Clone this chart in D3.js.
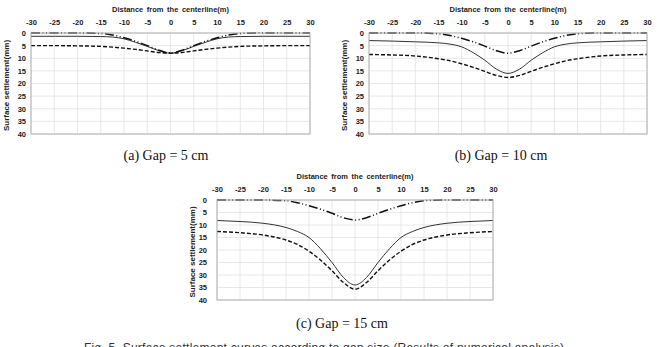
<!DOCTYPE html>
<meta charset="utf-8">
<style>
    body {
        margin: 0;
        background: #fff;
    }
    svg text {
        font-family: "Liberation Sans", Arial, sans-serif;
    }
    .tick {
        font-size: 7.5px;
        font-weight: bold;
        fill: #222;
    }
    .axis-title {
        font-size: 7.5px;
        font-weight: bold;
        fill: #222;
    }
    .caption {
        font-family: "Liberation Serif", "Times New Roman", serif !important;
        font-size: 14px;
        fill: #111;
    }
</style>

<body>
    <script src="https://cdn.jsdelivr.net/npm/d3@7"></script>
    <script>
        // distance from centerline (m)
        var distance = [-30, -25, -20, -15, -12.5, -10, -7.5, -5, -2.5, 0, 2.5, 5, 7.5, 10, 12.5, 15, 20, 25, 30];
        var xTicks = [-30, -25, -20, -15, -10, -5, 0, 5, 10, 15, 20, 25, 30];
        var yTicks = [0, 5, 10, 15, 20, 25, 30, 35, 40];

        // settlement (mm), gap = 5 cm
        var gap5Solid = [1.3, 1.3, 1.3, 1.4, 1.6, 2.3, 3.7, 5.3, 7, 8, 7, 5.3, 3.7, 2.3, 1.6, 1.4, 1.3, 1.3, 1.3];
        var gap5Dashed = [5, 5, 5.1, 5.3, 5.6, 6, 6.5, 7.1, 7.7, 8, 7.7, 7.1, 6.5, 6, 5.6, 5.3, 5.1, 5, 5];
        var gap5DashDot = [0, 0, 0, 0.2, 0.8, 1.9, 3.3, 5, 6.8, 8, 6.8, 5, 3.3, 1.9, 0.8, 0.2, 0, 0, 0];

        // gap = 10 cm
        var gap10Solid = [3, 3.2, 3.5, 3.9, 4.4, 5.5, 7.8, 10.8, 14.3, 16, 14.3, 10.8, 7.8, 5.5, 4.4, 3.9, 3.5, 3.2, 3];
        var gap10Dashed = [8.5, 8.7, 9.1, 10.2, 11, 12.2, 13.6, 15.2, 16.8, 17.6, 16.8, 15.2, 13.6, 12.2, 11, 10.2, 9.1, 8.7, 8.5];
        var gap10DashDot = [0, 0, 0, 0.3, 1, 2.1, 3.5, 5.2, 7, 8, 7, 5.2, 3.5, 2.1, 1, 0.3, 0, 0, 0];

        // gap = 15 cm
        var gap15Solid = [8.2, 8.6, 9.3, 11, 12.6, 15, 19.5, 25, 31, 34, 31, 25, 19.5, 15, 12.6, 11, 9.3, 8.6, 8.2];
        var gap15Dashed = [12.6, 13.1, 14, 16, 17.8, 20.5, 24, 28.3, 33, 35.7, 33, 28.3, 24, 20.5, 17.8, 16, 14, 13.1, 12.6];
        var gap15DashDot = [0, 0, 0, 0.3, 1.1, 2.3, 3.7, 5.3, 7.1, 8, 7.1, 5.3, 3.7, 2.3, 1.1, 0.3, 0, 0, 0];

        var captions = ["(a) Gap = 5 cm", "(b) Gap = 10 cm", "(c) Gap = 15 cm"];

        var svg = d3.select("body").append("svg")
            .attr("width", 658)
            .attr("height", 347);

        var panels = [
            { x0: 31, x1: 310, y0: 33, y1: 134, cap: [166, 160], series: [gap5Solid, gap5Dashed, gap5DashDot] },
            { x0: 369, x1: 647, y0: 33, y1: 134, cap: [501, 160], series: [gap10Solid, gap10Dashed, gap10DashDot] },
            { x0: 217, x1: 493, y0: 200, y1: 300, cap: [342, 328], series: [gap15Solid, gap15Dashed, gap15DashDot] }
        ];

        var styles = [
            { width: 1, dash: null, color: "#333" },
            { width: 1.4, dash: "4,2", color: "#111" },
            { width: 1.5, dash: "9,2.5,1,2.5,1,2.5", color: "#111" }
        ];

        panels.forEach(function (p, i) {
            var x = d3.scaleLinear().domain([-30, 30]).range([p.x0, p.x1]);
            var y = d3.scaleLinear().domain([0, 40]).range([p.y0, p.y1]);
            var g = svg.append("g");

            // grid
            g.selectAll(".gx").data(xTicks).enter().append("line")
                .attr("x1", d => x(d)).attr("x2", d => x(d))
                .attr("y1", p.y0).attr("y2", p.y1)
                .attr("stroke", "#e2e2e2").attr("stroke-width", 0.8);
            g.selectAll(".gy").data(yTicks).enter().append("line")
                .attr("x1", p.x0).attr("x2", p.x1)
                .attr("y1", d => y(d)).attr("y2", d => y(d))
                .attr("stroke", "#e2e2e2").attr("stroke-width", 0.8);

            // top axis labels (plain hyphen minus like the original)
            var xa = d3.axisTop(x).tickValues(xTicks).tickSize(0).tickPadding(8).tickFormat(d => String(d));
            var gx = g.append("g").attr("transform", "translate(0," + p.y0 + ")").call(xa);
            gx.select(".domain").remove();
            gx.selectAll("text").attr("class", "tick").attr("font-size", null).attr("font-family", null);

            var ya = d3.axisLeft(y).tickValues(yTicks).tickSize(0).tickPadding(p.x0 === 217 ? 10 : 5).tickFormat(d => String(d));
            var gy = g.append("g").attr("transform", "translate(" + p.x0 + ",0)").call(ya);
            gy.select(".domain").remove();
            gy.selectAll("text").attr("class", "tick").attr("font-size", null).attr("font-family", null);

            g.append("text").attr("class", "axis-title")
                .attr("x", (p.x0 + p.x1) / 2).attr("y", p.y0 - 21)
                .attr("text-anchor", "middle")
                .style("word-spacing", "1.5px")
                .text("Distance from the centerline(m)");

            g.append("text").attr("class", "axis-title")
                .attr("transform", "translate(" + (p.x0 - 22) + "," + ((p.y0 + p.y1) / 2 + 2) + ") rotate(-90)")
                .attr("text-anchor", "middle")
                .style("font-size", "8px")
                .text("Surface settlement(mm)");

            // curves
            var line = d3.line()
                .x((d, k) => x(distance[k]))
                .y(d => y(d))
                .curve(d3.curveMonotoneX);

            p.series.forEach(function (s, k) {
                g.append("path")
                    .attr("d", line(s))
                    .attr("fill", "none")
                    .attr("stroke", styles[k].color)
                    .attr("stroke-width", styles[k].width)
                    .attr("stroke-dasharray", styles[k].dash);
            });

            // frame
            g.append("rect")
                .attr("x", p.x0).attr("y", p.y0)
                .attr("width", p.x1 - p.x0).attr("height", p.y1 - p.y0)
                .attr("fill", "none").attr("stroke", "#b0b0b0").attr("stroke-width", 1);

            svg.append("text").attr("class", "caption")
                .attr("x", p.cap[0]).attr("y", p.cap[1])
                .attr("text-anchor", "middle")
                .text(captions[i]);
        });

        // figure caption, cut by the bottom edge as in the source image
        svg.append("text")
            .attr("x", 84).attr("y", 352)
            .attr("textLength", 480).attr("lengthAdjust", "spacing")
            .style("font-size", "12px").style("fill", "#333")
            .text("Fig. 5. Surface settlement curves according to gap size (Results of numerical analysis)");
    </script>
</body>
